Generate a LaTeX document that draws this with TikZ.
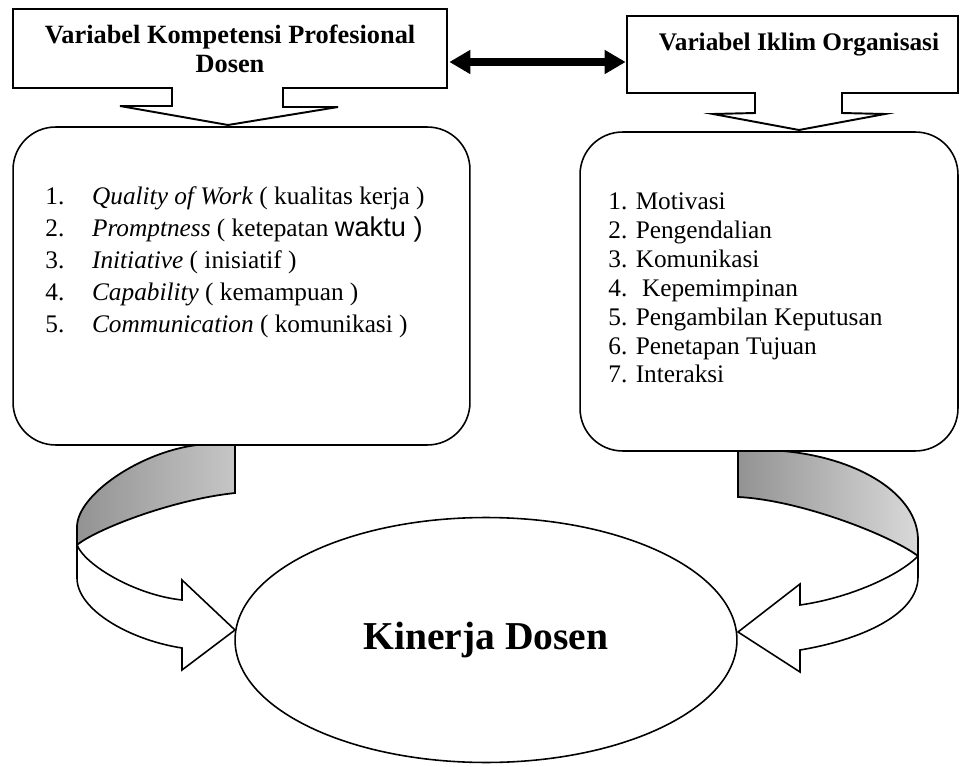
\documentclass[tikz,border=0pt]{standalone}
\usepackage{fontspec}
\setmainfont{Liberation Serif}
\setsansfont{Liberation Sans}
\usetikzlibrary{shapes.geometric,arrows.meta,calc}

\begin{document}
\begin{tikzpicture}[x=0.02cm,y=-0.02cm,
        calloutline/.style={draw,line width=1.1pt,line join=miter},
        boxtitle/.style={font=\bfseries\fontsize{14.4}{16.5}\selectfont,align=center,inner sep=0pt},
        listbox/.style={draw,line width=0.9pt,rounded corners=0.85cm},
        listitem/.style={font=\fontsize{14.4}{17}\selectfont,anchor=base west,inner sep=0pt},
        ribbonback/.style={draw,line width=1pt,left color=gray!85,right color=gray!45},
        ribbonfront/.style={draw,line width=0.9pt,fill=white},
        dblarrow/.style={line width=4.2pt,{Triangle[length=12pt,width=13pt]}-{Triangle[length=12pt,width=13pt]}}]
    \useasboundingbox (0,0) rectangle (961,767);

    % title callouts
    \draw[calloutline] (13,9) -- (447,9) -- (447,88) -- (283,88) -- (283,107) -- (338,107)
        -- (228,125) -- (120,106) -- (172,106) -- (172,88) -- (13,88) -- cycle;
    \draw[calloutline] (627,16) -- (958,16) -- (958,93) -- (842,93) -- (842,113) -- (885,114)
        -- (799,130) -- (713,114) -- (755,113) -- (755,93) -- (627,93) -- cycle;
    \node[boxtitle,font=\bfseries\fontsize{15}{16.5}\selectfont,minimum width=8.68cm,minimum height=1.58cm]
        (kompBox) at (230,48.5) {Variabel Kompetensi Profesional\\Dosen};
    \node[minimum width=6.62cm,minimum height=1.54cm,inner sep=0pt] (iklimBox) at (792.5,54.5) {};
    \node[boxtitle] (iklimTxt) at (799,45) {Variabel Iklim Organisasi};
    \draw[dblarrow] ($(kompBox.east)+(2,13.5)$) -- ($(iklimBox.west)+(-1,7.5)$);

    % indicator boxes
    \node[listbox,minimum width=9.14cm,minimum height=6.36cm] (kompList) at (241.5,286) {};
    \node[listbox,minimum width=7.56cm,minimum height=6.38cm] (iklimList) at (769,291.5) {};
    \foreach \txt [count=\i] in {{\textit{Quality of Work} ( kualitas kerja )},
            {\textit{Promptness} ( ketepatan {\sffamily\fontsize{15.5}{17}\selectfont waktu )}},
            {\textit{Initiative} ( inisiatif )},
            {\textit{Capability} ( kemampuan )},
            {\textit{Communication} ( komunikasi )}}
        \node[listitem] (kompItem\i) at (45,{205+31.75*(\i-1)}) {\makebox[26.6pt][l]{\i.}\txt};
    \foreach \txt [count=\i] in {Motivasi,Pengendalian,Komunikasi,{\ Kepemimpinan},
            Pengambilan Keputusan,Penetapan Tujuan,Interaksi}
        \node[listitem] (iklimItem\i) at (608,{210+28.8*(\i-1)}) {\i. \txt};

    % curved arrows
    \draw[ribbonback] (197,445) .. controls (140,452) and (77,495) .. (77,527) -- (77,545)
        .. controls (95,530) and (170,500) .. (235,493) -- (235,445) -- cycle;
    \draw[ribbonfront] (77,527) -- (77,578) .. controls (77,610) and (130,640) .. (182,648)
        -- (182,670) -- (235,630) -- (182,580) -- (182,600)
        .. controls (135,595) and (85,565) .. (77,545);
    \draw[ribbonback,right color=gray!30] (738,451) -- (783,451) .. controls (860,458) and (918,495) .. (918,540)
        -- (918,556) .. controls (890,535) and (800,500) .. (738,497) -- cycle;
    \draw[ribbonfront] (918,540) -- (918,577) .. controls (918,615) and (860,640) .. (800,650)
        -- (800,672) -- (738,632) -- (800,584) -- (800,605)
        .. controls (850,598) and (900,575) .. (918,556);

    \node[draw,ellipse,line width=0.9pt,minimum width=10.04cm,minimum height=4.9cm,
        font=\bfseries\fontsize{22.5}{27}\selectfont] (kinerja) at (486,640) {Kinerja Dosen};
\end{tikzpicture}
\end{document}
